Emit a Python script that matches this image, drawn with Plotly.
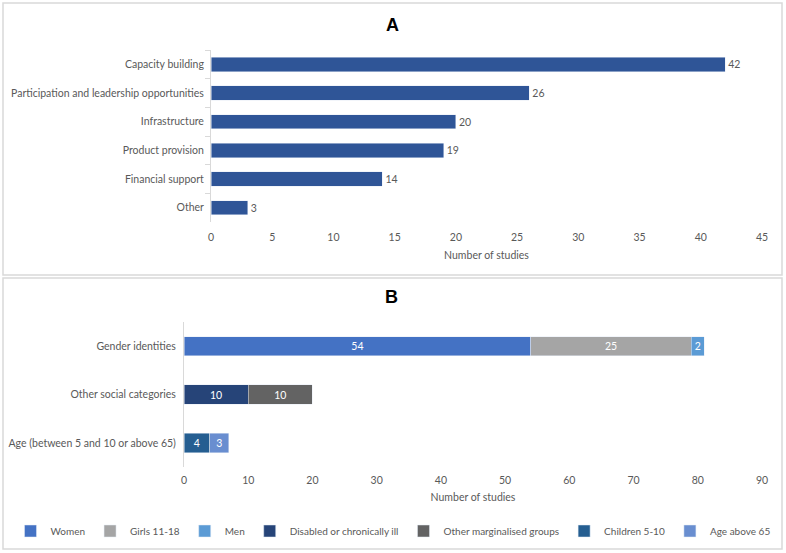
import plotly.graph_objects as go

# ---- Panel A data ----
a_categories = ["Capacity building", "Participation and leadership opportunities",
                "Infrastructure", "Product provision", "Financial support", "Other"]
a_values = [42, 26, 20, 19, 14, 3]

# ---- Panel B data ----
b_categories = ["Gender identities", "Other social categories", "Age (between 5 and 10 or above 65)"]
b_series = ["Women", "Girls 11-18", "Men", "Disabled or chronically ill",
            "Other marginalised groups", "Children 5-10", "Age above 65"]
b_series_category = ["Gender identities", "Gender identities", "Gender identities",
                     "Other social categories", "Other social categories",
                     "Age (between 5 and 10 or above 65)", "Age (between 5 and 10 or above 65)"]
b_values = [54, 25, 2, 10, 10, 4, 3]
b_colors = ["#4472C4", "#A5A5A5", "#5B9BD5", "#264478", "#636363", "#255E91", "#698ED0"]

FONT = "Lato"
GREY = "#595959"
FS = 10.5

fig = go.Figure()

fig.add_trace(go.Bar(
    x=a_values, y=a_categories, orientation="h",
    marker=dict(color="#2F5597"), width=0.5,
    text=a_values, textposition="outside", cliponaxis=False,
    textfont=dict(color=GREY, size=FS, family=FONT),
    xaxis="x", yaxis="y", showlegend=False, hoverinfo="x+y",
))

for name, cat, val, col in zip(b_series, b_series_category, b_values, b_colors):
    fig.add_trace(go.Bar(
        x=[val], y=[cat], orientation="h", name=name,
        marker=dict(color=col), width=0.4,
        text=[val], textposition="inside", insidetextanchor="middle",
        textfont=dict(color="white", size=FS, family=FONT),
        xaxis="x2", yaxis="y2",
    ))

W, H = 786, 553
def px(x): return x / W
def py(y): return 1 - y / H

fig.update_layout(
    width=W, height=H, margin=dict(l=0, r=0, t=0, b=0, autoexpand=False),
    paper_bgcolor="white", plot_bgcolor="white",
    barmode="stack",
    font=dict(family=FONT, color=GREY, size=FS),
    xaxis=dict(domain=[px(211), px(762)], anchor="y", range=[0, 45], dtick=5,
               showgrid=False, zeroline=False, showline=False, ticks="", automargin=False,
               tickfont=dict(size=FS, color=GREY), ticklabelstandoff=7,
               title=dict(text="Number of studies", font=dict(size=FS, color=GREY), standoff=10)),
    yaxis=dict(domain=[py(222), py(50)], anchor="x", autorange="reversed", automargin=False,
               showgrid=False, zeroline=False, showline=True, linecolor="#D9D9D9",
               ticks="outside", tickson="boundaries", ticklen=5, tickcolor="#D9D9D9",
               ticklabelstandoff=4, tickfont=dict(size=FS, color=GREY)),
    xaxis2=dict(domain=[px(184), px(762)], anchor="y2", range=[0, 90], dtick=10,
                showgrid=False, zeroline=False, showline=False, ticks="", automargin=False,
                tickfont=dict(size=FS, color=GREY), ticklabelstandoff=5,
                title=dict(text="Number of studies", font=dict(size=FS, color=GREY), standoff=9)),
    yaxis2=dict(domain=[py(467), py(322)], anchor="x2", autorange="reversed", automargin=False,
                showgrid=False, zeroline=False, showline=True, linecolor="#D9D9D9",
                ticks="", ticklabelstandoff=5, tickfont=dict(size=FS, color=GREY)),
    legend=dict(orientation="h", x=0.5, xanchor="center", y=py(531), yanchor="middle",
                font=dict(size=10, color=GREY), itemwidth=30, traceorder="normal",
                tracegroupgap=0),
    shapes=[
        dict(type="rect", xref="paper", yref="paper", x0=px(3), x1=px(782), y0=py(275), y1=py(3),
             line=dict(color="#D9D9D9", width=1.5)),
        dict(type="rect", xref="paper", yref="paper", x0=px(3), x1=px(782), y0=py(549), y1=py(278),
             line=dict(color="#D9D9D9", width=1.5)),
    ],
    annotations=[
        dict(text="<b>A</b>", xref="paper", yref="paper", x=px(392), y=py(25), showarrow=False,
             xanchor="center", yanchor="middle",
             font=dict(size=18, color="black", family="Liberation Sans")),
        dict(text="<b>B</b>", xref="paper", yref="paper", x=px(391), y=py(297), showarrow=False,
             xanchor="center", yanchor="middle",
             font=dict(size=18, color="black", family="Liberation Sans")),
    ],
)

fig.write_html("out.html", config={"displayModeBar": False},
               post_script="document.body.style.margin='0';document.body.style.overflow='hidden';")
